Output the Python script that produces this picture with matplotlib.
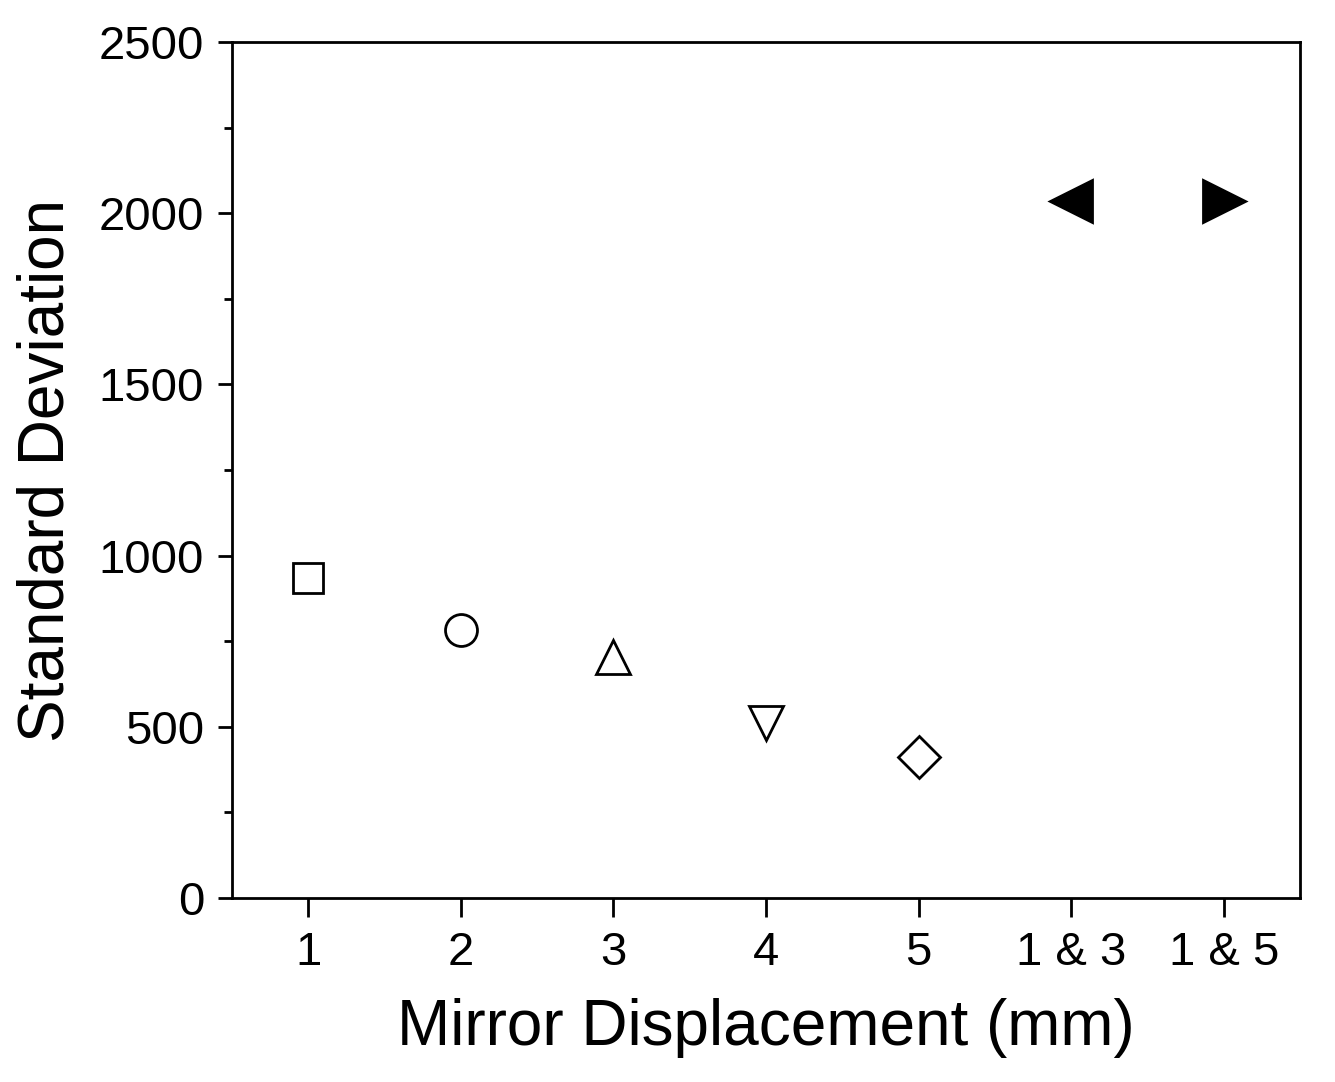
import matplotlib
matplotlib.use("Agg")
import matplotlib.pyplot as plt

categories = ["1", "2", "3", "4", "5", "1 & 3", "1 & 5"]
values = [935, 783, 704, 511, 412, 2036, 2036]
markers = ["s", "o", "^", "v", "D", "<", ">"]
filled = [False, False, False, False, False, True, True]
sizes = [21, 23, 25, 25, 21, 30, 30]

plt.rcParams['font.family'] = ['Liberation Sans', 'DejaVu Sans']
fig = plt.figure(figsize=(13.35, 10.82), dpi=100)
ax = fig.add_axes([232/1335, 1-898/1082, (1300-232)/1335, (898-42)/1082])
for i, (v, m, f, s) in enumerate(zip(values, markers, filled, sizes)):
    ax.plot(i + 1, v, marker=m, markersize=s, markerfacecolor='black' if f else 'white',
            markeredgecolor='black', markeredgewidth=2, linestyle='none')
ax.set_xlim(0.5, 7.5)
ax.set_ylim(0, 2500)
ax.set_xticks(range(1, 8))
ax.set_xticklabels(categories)
ax.set_yticks(range(0, 2501, 500))
ax.set_yticks(range(250, 2500, 500), minor=True)
ax.tick_params(axis='both', which='major', labelsize=34, width=2, length=10, direction='out', pad=10)
ax.tick_params(axis='x', which='major', length=14)
ax.tick_params(axis='y', which='minor', width=2, length=6, direction='out')
for sp in ax.spines.values():
    sp.set_linewidth(2)
ax.set_xlabel("Mirror Displacement (mm)", fontsize=46, labelpad=16)
ax.set_ylabel("Standard Deviation", fontsize=46, labelpad=16)
fig.savefig("out.png", dpi=100)
